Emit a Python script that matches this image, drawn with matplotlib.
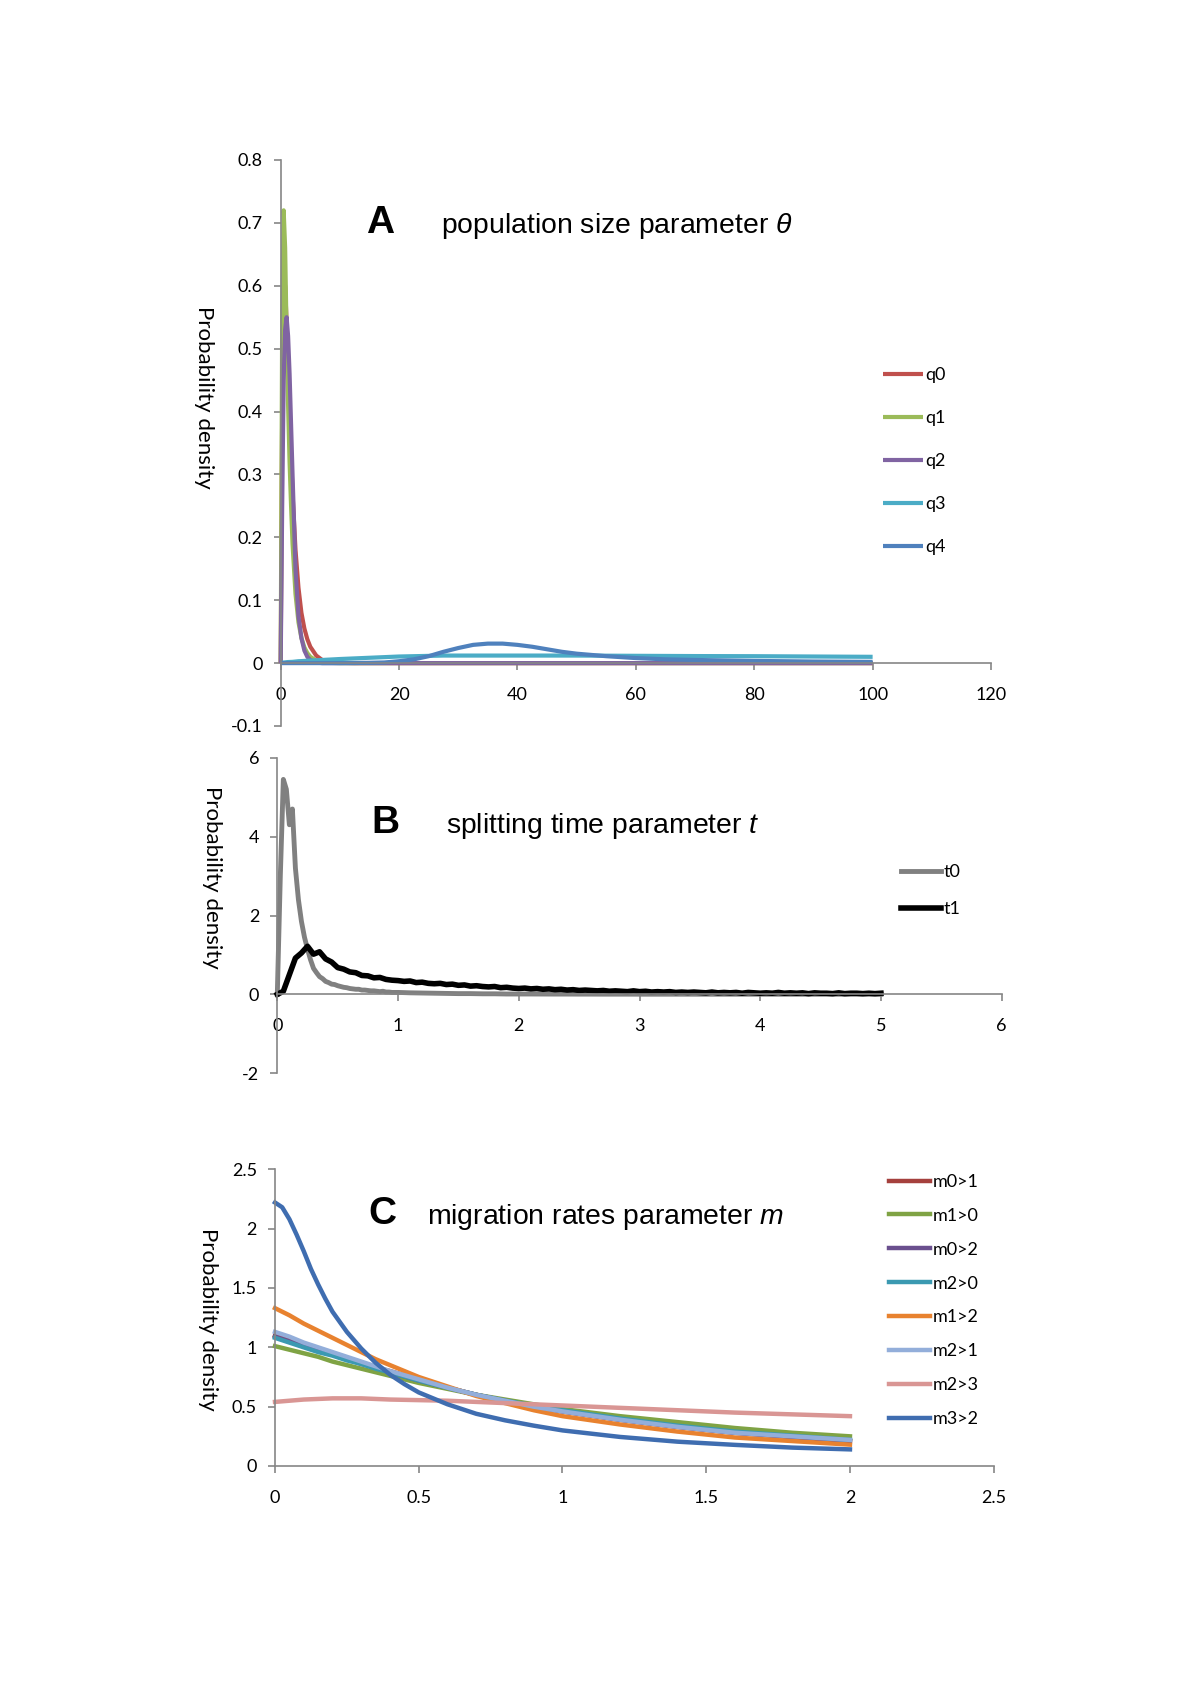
import numpy as np
import matplotlib
matplotlib.use("Agg")
import matplotlib.pyplot as plt

plt.rcParams['font.family'] = ['Lato', 'DejaVu Sans']
plt.rcParams['mathtext.fontset'] = 'custom'
plt.rcParams['mathtext.rm'] = 'Liberation Sans'
plt.rcParams['mathtext.it'] = 'Liberation Sans:italic'
plt.rcParams['axes.unicode_minus'] = False

# ---- panel A: population size theta ----
xa = [0, 0.25, 0.5, 0.75, 1, 1.25, 1.5, 1.75, 2, 2.5, 3, 3.5, 4, 4.5, 5, 6, 7, 8, 10,
      12.5, 15, 17.5, 20, 22.5, 25, 27.5, 30, 32.5, 35, 37.5, 40, 42.5, 45, 47.5, 50,
      55, 60, 65, 70, 80, 90, 100]
q0 = [0, 0.40, 0.60, 0.60, 0.54, 0.47, 0.40, 0.33, 0.27, 0.18, 0.12, 0.08, 0.055, 0.038, 0.026,
      0.012, 0.005, 0.002, 0.0005, 0, 0, 0, 0, 0, 0, 0, 0, 0, 0, 0, 0, 0, 0, 0, 0,
      0, 0, 0, 0, 0, 0, 0]
q1 = [0, 0.55, 0.72, 0.66, 0.52, 0.41, 0.32, 0.25, 0.19, 0.11, 0.065, 0.04, 0.025, 0.016, 0.01,
      0.004, 0.0015, 0.0005, 0, 0, 0, 0, 0, 0, 0, 0, 0, 0, 0, 0, 0, 0, 0, 0, 0,
      0, 0, 0, 0, 0, 0, 0]
q2 = [0, 0.25, 0.45, 0.53, 0.55, 0.52, 0.46, 0.38, 0.30, 0.15, 0.075, 0.04, 0.02, 0.01, 0.005,
      0.001, 0, 0, 0, 0, 0, 0, 0, 0, 0, 0, 0, 0, 0, 0, 0, 0, 0, 0, 0,
      0, 0, 0, 0, 0, 0, 0]
q3 = [0, 0.0005, 0.001, 0.0012, 0.0015, 0.0017, 0.0018, 0.0019, 0.002, 0.0025, 0.003, 0.0032, 0.0035,
      0.0038, 0.004, 0.0045, 0.005, 0.0055, 0.0065, 0.0075, 0.0085, 0.0095, 0.0105, 0.011, 0.0115,
      0.012, 0.012, 0.012, 0.012, 0.012, 0.012, 0.012, 0.012, 0.012, 0.012,
      0.0118, 0.0116, 0.0114, 0.0112, 0.011, 0.0105, 0.010]
q4 = [0, 0, 0, 0, 0, 0, 0, 0, 0, 0, 0, 0, 0, 0, 0, 0, 0, 0, 0,
      0.0002, 0.0005, 0.001, 0.003, 0.006, 0.011, 0.018, 0.024, 0.029, 0.031, 0.031, 0.029,
      0.026, 0.022, 0.018, 0.015, 0.011, 0.008, 0.006, 0.005, 0.0035, 0.0025, 0.002]
q_names = ['q0', 'q1', 'q2', 'q3', 'q4']
q_colors = ['#C0504D', '#9BBB59', '#8064A2', '#4BACC6', '#4F81BD']

# ---- panel B: splitting time t ----
tx0 = [0, 0.025, 0.05, 0.075, 0.1, 0.125, 0.15, 0.175, 0.2, 0.225, 0.25, 0.275, 0.3, 0.325,
       0.35, 0.375, 0.4, 0.425, 0.45, 0.475, 0.5, 0.525, 0.55, 0.575, 0.6, 0.625, 0.65, 0.675,
       0.7, 0.725, 0.75, 0.775, 0.8, 0.825, 0.85, 0.875, 0.9, 0.925, 0.95, 0.975, 1.0,
       1.1, 1.2, 1.3, 1.4, 1.5, 1.6, 1.7, 1.8, 1.9, 2.0, 2.1, 2.2, 2.3, 2.4, 2.5, 2.6, 2.7,
       2.8, 2.9, 3.0, 3.2, 3.4, 3.6, 3.8, 4.0, 4.2, 4.4, 4.6, 4.8, 5.0]
t0 = [0, 3.0, 5.45, 5.2, 4.3, 4.7, 3.2, 2.4, 1.85, 1.45, 1.15, 0.88, 0.66, 0.55,
      0.45, 0.40, 0.33, 0.30, 0.26, 0.25, 0.22, 0.20, 0.18, 0.17, 0.15, 0.14, 0.13, 0.13,
      0.11, 0.11, 0.10, 0.09, 0.09, 0.08, 0.07, 0.08, 0.06, 0.06, 0.05, 0.05, 0.05,
      0.04, 0.035, 0.03, 0.025, 0.02, 0.02, 0.015, 0.015, 0.01, 0.01, 0.01, 0.009, 0.008,
      0.008, 0.007, 0.007, 0.006, 0.006, 0.006, 0.005, 0.005, 0.005, 0.004, 0.004, 0.004,
      0.003, 0.003, 0.003, 0.003, 0.003]
tx1 = [round(0.05 * i, 2) for i in range(101)]
t1 = [0.00, 0.08, 0.50, 0.92, 1.05, 1.22, 1.02, 1.08, 0.90, 0.82,
      0.68, 0.64, 0.57, 0.55, 0.48, 0.47, 0.42, 0.43, 0.38, 0.36,
      0.35, 0.33, 0.34, 0.30, 0.31, 0.28, 0.27, 0.28, 0.25, 0.26,
      0.23, 0.24, 0.21, 0.22, 0.20, 0.19, 0.20, 0.17, 0.18, 0.16,
      0.15, 0.16, 0.14, 0.15, 0.13, 0.14, 0.12, 0.13, 0.11, 0.12,
      0.10, 0.11, 0.10, 0.09, 0.10, 0.08, 0.09, 0.08, 0.07, 0.09,
      0.07, 0.08, 0.06, 0.07, 0.06, 0.07, 0.05, 0.06, 0.05, 0.06,
      0.05, 0.04, 0.06, 0.04, 0.05, 0.04, 0.05, 0.03, 0.05, 0.04,
      0.03, 0.04, 0.03, 0.05, 0.03, 0.04, 0.03, 0.04, 0.02, 0.04,
      0.03, 0.03, 0.02, 0.04, 0.02, 0.03, 0.03, 0.02, 0.03, 0.02, 0.03]

# ---- panel C: migration rates m ----
xc = [0, 0.05, 0.1, 0.15, 0.2, 0.25, 0.3, 0.35, 0.4, 0.5, 0.6, 0.7, 0.8, 0.9, 1.0,
      1.2, 1.4, 1.6, 1.8, 2.0]
m01 = [1.10, 1.06, 1.02, 0.98, 0.94, 0.90, 0.87, 0.83, 0.80, 0.73, 0.66, 0.60, 0.55, 0.50, 0.46,
       0.39, 0.33, 0.28, 0.245, 0.21]
m10 = [1.01, 0.98, 0.95, 0.92, 0.88, 0.85, 0.82, 0.79, 0.76, 0.70, 0.65, 0.60, 0.56, 0.52, 0.48,
       0.42, 0.37, 0.32, 0.28, 0.25]
m02 = [1.09, 1.05, 1.01, 0.97, 0.94, 0.90, 0.86, 0.83, 0.79, 0.72, 0.66, 0.60, 0.55, 0.50, 0.46,
       0.39, 0.33, 0.28, 0.245, 0.21]
m20 = [1.08, 1.04, 1.00, 0.96, 0.93, 0.89, 0.86, 0.82, 0.79, 0.72, 0.66, 0.60, 0.55, 0.51, 0.47,
       0.40, 0.34, 0.29, 0.255, 0.22]
m12 = [1.33, 1.27, 1.20, 1.14, 1.08, 1.02, 0.96, 0.90, 0.85, 0.75, 0.67, 0.59, 0.53, 0.47, 0.42,
       0.35, 0.29, 0.24, 0.21, 0.18]
m21 = [1.13, 1.09, 1.04, 1.00, 0.96, 0.92, 0.88, 0.84, 0.80, 0.73, 0.66, 0.60, 0.55, 0.50, 0.46,
       0.39, 0.33, 0.28, 0.25, 0.22]
m23 = [0.54, 0.55, 0.56, 0.565, 0.57, 0.57, 0.57, 0.565, 0.56, 0.555, 0.55, 0.54, 0.53, 0.52, 0.51,
       0.49, 0.47, 0.45, 0.435, 0.42]
xc32 = [0, 0.025, 0.05, 0.075, 0.1, 0.125, 0.15, 0.175, 0.2, 0.25, 0.3, 0.35, 0.4, 0.45, 0.5,
        0.6, 0.7, 0.8, 0.9, 1.0, 1.2, 1.4, 1.6, 1.8, 2.0]
m32 = [2.22, 2.18, 2.08, 1.95, 1.81, 1.66, 1.53, 1.41, 1.30, 1.13, 0.99, 0.87, 0.77, 0.69, 0.62,
       0.52, 0.44, 0.385, 0.34, 0.30, 0.245, 0.205, 0.178, 0.155, 0.14]
m_names = ['m0>1', 'm1>0', 'm0>2', 'm2>0', 'm1>2', 'm2>1', 'm2>3', 'm3>2']
m_colors = ['#A5403D', '#7FA344', '#6A4F8E', '#3B99B1', '#E8822F', '#93AEDA', '#D99694', '#3F6DB0']

W, H = 1200, 1698
fig = plt.figure(figsize=(W / 100, H / 100), dpi=100)


def px_axes(x0, x1, y_top, y_bot):
    return fig.add_axes([x0 / W, 1 - y_bot / H, (x1 - x0) / W, (y_bot - y_top) / H])


def style(ax):
    for s in ['top', 'right']:
        ax.spines[s].set_visible(False)
    for s in ['left', 'bottom']:
        ax.spines[s].set_color('#868686')
        ax.spines[s].set_linewidth(1.2)
    ax.spines['bottom'].set_position(('data', 0))
    ax.tick_params(direction='out', length=5, width=1.2, color='#868686',
                   labelsize=13, labelcolor='black')
    ax.tick_params(axis='x', pad=12)
    ax.tick_params(axis='y', pad=8)
    ax.set_facecolor('none')


def ylab(ax, x, y):
    ax.set_ylabel('Probability density', rotation=-90, fontsize=16, va='center', ha='center')
    ax.yaxis.set_label_coords(x / W, 1 - y / H, transform=fig.transFigure)


def title(letter, txt, xl, xt, yb):
    fig.text(xl / W, 1 - yb / H, letter, fontsize=28, fontweight='bold',
             family='Liberation Sans', va='baseline', ha='left')
    fig.text(xt / W, 1 - yb / H, txt, fontsize=20.4, family='Liberation Sans',
             va='baseline', ha='left')


def legend(ax, x, y, spacing, hl):
    ax.legend(loc='center left', bbox_to_anchor=(x / W, 1 - y / H), bbox_transform=fig.transFigure,
              frameon=False, fontsize=13, handlelength=hl, handletextpad=0.15, borderpad=0,
              borderaxespad=0, labelspacing=spacing)


# panel A
axA = px_axes(280.7, 991, 160, 726)
for y, n, c in zip([q0, q1, q2, q3, q4], q_names, q_colors):
    axA.plot(xa, y, color=c, lw=3, label=n, clip_on=False, solid_capstyle='butt')
axA.set_xlim(0, 120)
axA.set_ylim(-0.1, 0.8)
axA.set_xticks([0, 20, 40, 60, 80, 100, 120])
axA.set_xticklabels(['0', '20', '40', '60', '80', '100', '120'])
axA.set_yticks([-0.1, 0, 0.1, 0.2, 0.3, 0.4, 0.5, 0.6, 0.7, 0.8])
axA.set_yticklabels(['-0.1', '0', '0.1', '0.2', '0.3', '0.4', '0.5', '0.6', '0.7', '0.8'])
style(axA)
ylab(axA, 204, 397)
title('A', 'population size parameter $\\theta$', 366, 441, 233)
legend(axA, 883, 461, 1.5, 2.2)

# panel B
axB = px_axes(277.3, 1001.7, 757.7, 1073.3)
axB.plot(tx0, t0, color='#808080', lw=3.5, label='t0', clip_on=False)
axB.plot(tx1, t1, color='black', lw=4, label='t1', clip_on=False)
axB.set_xlim(0, 6)
axB.set_ylim(-2, 6)
axB.set_xticks([0, 1, 2, 3, 4, 5, 6])
axB.set_yticks([-2, 0, 2, 4, 6])
axB.set_yticklabels(['-2', '0', '2', '4', '6'])
style(axB)
ylab(axB, 212, 877)
title('B', 'splitting time parameter $t$', 371, 446, 833)
legend(axB, 901, 890.5, 1.15, 2.2)

# panel C
axC = px_axes(275, 993.7, 1169.3, 1466)
for y, n, c in zip([m01, m10, m02, m20, m12, m21, m23], m_names[:7], m_colors[:7]):
    axC.plot(xc, y, color=c, lw=3.2, label=n, clip_on=False)
axC.plot(xc32, m32, color=m_colors[7], lw=3.2, label=m_names[7], clip_on=False)
axC.set_xlim(0, 2.5)
axC.set_ylim(0, 2.5)
axC.set_xticks([0, 0.5, 1, 1.5, 2, 2.5])
axC.set_xticklabels(['0', '0.5', '1', '1.5', '2', '2.5'])
axC.set_yticks([0, 0.5, 1, 1.5, 2, 2.5])
axC.set_yticklabels(['0', '0.5', '1', '1.5', '2', '2.5'])
style(axC)
ylab(axC, 208, 1319)
title('C', 'migration rates parameter $m$', 368, 427, 1224)
legend(axC, 889, 1300.5, 0.99, 2.25)

fig.savefig('out.png', dpi=100, facecolor='white')
